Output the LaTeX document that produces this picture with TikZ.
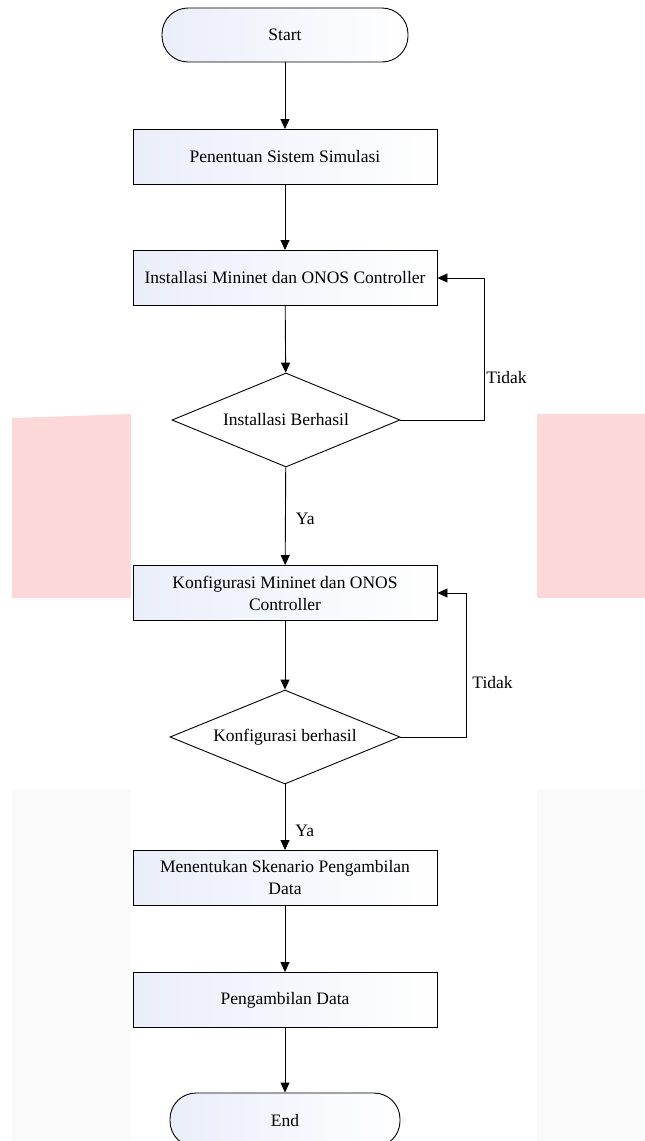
\documentclass[tikz,border=0pt]{standalone}
\usepackage{fontspec}
\setmainfont{Liberation Serif}
\usetikzlibrary{shapes.geometric,arrows.meta}
\definecolor{pinkwm}{RGB}{253,216,216}
\definecolor{graywm}{RGB}{250,250,251}
\definecolor{boxfill}{RGB}{234,238,250}

\begin{document}
\begin{tikzpicture}[x=1pt,y=-1pt,
  box/.style={draw,line width=0.9pt,left color=boxfill,right color=white,
    minimum width=304pt,minimum height=55pt,align=center,
    font=\fontsize{17.5}{22}\selectfont},
  term/.style={box,rounded corners=26pt,minimum width=246pt,minimum height=54pt},
  decision/.style={diamond,draw,line width=0.9pt,fill=white,inner sep=0pt,
    shape aspect=2.43,minimum width=228pt,minimum height=94pt,
    font=\fontsize{17.5}{22}\selectfont},
  arrow/.style={line width=0.9pt,-{Triangle[length=10pt,width=9pt]}},
  lbl/.style={font=\fontsize{17.5}{22}\selectfont,inner sep=2pt}]
\useasboundingbox (0,0) rectangle (645,1141);
% watermark
\fill[pinkwm] (12,418) -- (131,414) -- (131,598) -- (12,598) -- cycle;
\fill[pinkwm] (537,414) -- (645,414) -- (645,598) -- (537,598) -- cycle;
\fill[graywm] (12,789) rectangle (131,1141);
\fill[graywm] (537,789) rectangle (645,1141);

\node[term] (start) at (285,35) {Start};
\node[box] (sistem) at (285,157) {Penentuan Sistem Simulasi};
\node[box] (instal) at (285,278) {Installasi Mininet dan ONOS Controller};
\node[decision] (cekinstal) at (286,420) {Installasi Berhasil};
\node[box] (konfig) at (285,593) {Konfigurasi Mininet dan ONOS\\Controller};
\node[decision,minimum width=230pt] (cekkonfig) at (285,737) {Konfigurasi berhasil};
\node[box] (skenario) at (285,878) {Menentukan Skenario Pengambilan\\Data};
\node[box] (ambil) at (285,1000) {Pengambilan Data};
\node[term,minimum width=230pt] (end) at (285,1120) {End};

\coordinate (balik1) at (484,420);
\coordinate (balik2) at (466,737);

\draw[arrow] (start) -- (sistem);
\draw[arrow] (sistem) -- (instal);
\draw[arrow] (instal) -- (cekinstal);
\draw[arrow] (cekinstal) -- node[lbl,pos=0.53,right,xshift=8pt]{Ya} (konfig);
\draw[arrow] (cekinstal.east) -- (balik1) |- node[lbl,pos=0.15,right]{Tidak} (instal.east);
\draw[arrow] (konfig) -- (cekkonfig);
\draw[arrow] (cekkonfig) -- node[lbl,pos=0.7,right,xshift=8pt]{Ya} (skenario);
\draw[arrow] (cekkonfig.east) -- (balik2) |- node[lbl,pos=0.19,right,xshift=4pt]{Tidak} (konfig.east);
\draw[arrow] (skenario) -- (ambil);
\draw[arrow] (ambil) -- (end);
\end{tikzpicture}
\end{document}
